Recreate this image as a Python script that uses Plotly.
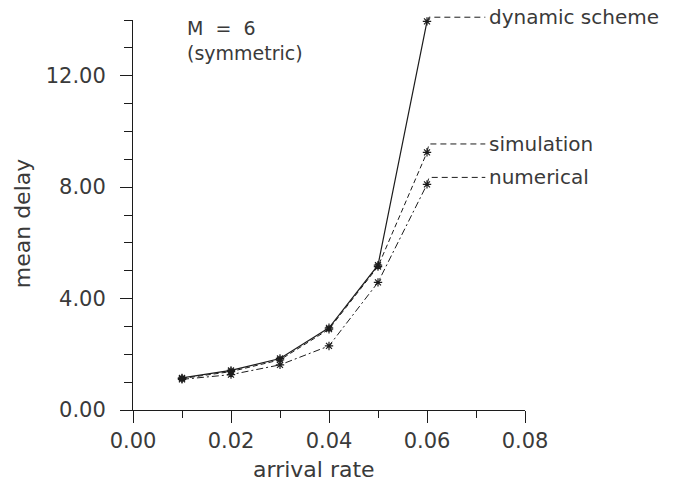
import plotly.graph_objects as go

# arrival rate (x) and mean delay for each method
arrival_rate = [0.01, 0.02, 0.03, 0.04, 0.05, 0.06]
dynamic_scheme = [1.15, 1.42, 1.85, 2.95, 5.20, 13.95]
simulation = [1.13, 1.38, 1.80, 2.90, 5.15, 9.25]
numerical = [1.10, 1.27, 1.62, 2.30, 4.58, 8.10]

series_names = ["dynamic scheme", "simulation", "numerical"]
x_ticks = [0.00, 0.02, 0.04, 0.06, 0.08]
y_ticks = [0.00, 4.00, 8.00, 12.00]

X_MAX = 0.08
Y_MAX = 14.0

FONT = "DejaVu Sans"
INK = "#1c1c1c"
TEXT = "#3a3a3a"

fig = go.Figure()

styles = [
    dict(dash="solid", width=1.2),
    dict(dash="5px,3px", width=1.0),
    dict(dash="7px,3px,2px,3px", width=1.0),
]
all_series = [dynamic_scheme, simulation, numerical]
for name, ys, st in zip(series_names, all_series, styles):
    fig.add_trace(go.Scatter(
        x=arrival_rate, y=ys, mode="lines+markers", name=name,
        line=dict(color=INK, width=st["width"], dash=st["dash"]),
        marker=dict(symbol="asterisk-open", size=7, color=INK,
                    line=dict(color=INK, width=1.2)),
        showlegend=False, cliponaxis=False,
    ))

# leader lines from the last point of each curve to its label
# (drawn in paper y so that the top one may sit above the axis range)
label_x = 0.0723
lifts = [0.15, 0.3, 0.25]
for name, ys, lift in zip(series_names, all_series, lifts):
    x_end = arrival_rate[-1]
    y0 = ys[-1] / Y_MAX
    y1 = (ys[-1] + lift) / Y_MAX
    fig.add_shape(
        type="path", xref="x", yref="paper",
        path=f"M {x_end},{y0} L {x_end + 0.0004},{y1} L {label_x - 0.0004},{y1}",
        line=dict(color=INK, width=1, dash="6px,4px"),
    )
    fig.add_annotation(
        x=label_x, y=y1, xref="x", yref="paper", text=name,
        showarrow=False, xanchor="left", yanchor="middle",
        font=dict(family=FONT, size=20, color=TEXT),
    )

fig.add_annotation(
    x=0.0106, y=1.012, xref="x", yref="paper",
    text="M  =  6<br>(symmetric)", align="left",
    showarrow=False, xanchor="left", yanchor="top",
    font=dict(family=FONT, size=19, color=TEXT),
)

# axis titles
fig.add_annotation(
    x=-0.283, y=0.479, xref="paper", yref="paper", text="mean delay",
    textangle=-90, showarrow=False, xanchor="center", yanchor="middle",
    font=dict(family=FONT, size=22, color=TEXT),
)
fig.add_annotation(
    x=0.462, y=-0.152, xref="paper", yref="paper", text="arrival rate",
    showarrow=False, xanchor="center", yanchor="middle",
    font=dict(family=FONT, size=22, color=TEXT),
)

axis_common = dict(
    showline=True, linecolor=INK, linewidth=1, mirror=False,
    showgrid=False, zeroline=False, ticks="outside", ticklen=12,
    tickwidth=1, tickcolor=INK, tickformat=".2f",
    tickfont=dict(family=FONT, size=21, color=TEXT),
)

fig.update_xaxes(
    range=[0, X_MAX], tickvals=x_ticks,
    minor=dict(dtick=0.01, tick0=0, ticks="outside", ticklen=7,
               tickcolor=INK, tickwidth=1),
    **axis_common,
)
fig.update_yaxes(
    range=[0, Y_MAX], tickvals=y_ticks, ticklabelstandoff=10,
    minor=dict(dtick=1, tick0=0, ticks="outside", ticklen=8,
               tickcolor=INK, tickwidth=1),
    **axis_common,
)

fig.update_layout(
    width=686, height=484,
    margin=dict(l=133, r=161, t=20, b=74),
    paper_bgcolor="white", plot_bgcolor="white",
)

fig.write_html("out.html")
